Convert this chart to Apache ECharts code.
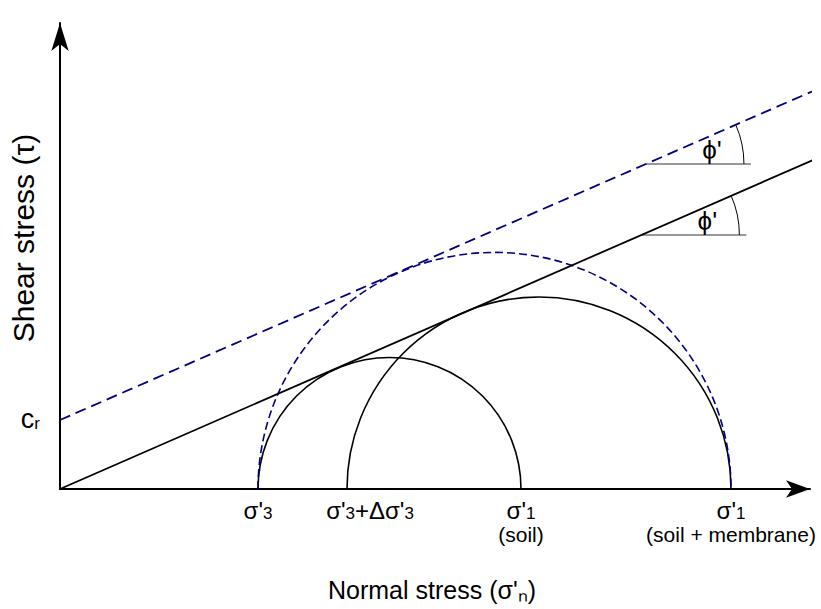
<!DOCTYPE html>
<html>
<head>
<meta charset="utf-8">
<script src="https://cdn.jsdelivr.net/npm/echarts@6/dist/echarts.min.js"></script>
<style>html,body{margin:0;padding:0;background:#fff}#c{width:821px;height:609px}</style>
</head>
<body>
<div id="c"></div>
<script>
// ---- data (stress units) ----
var sigma3 = 198;            // σ'3
var sigma3plus = 287;        // σ'3 + Δσ'3
var sigma1Soil = 461;        // σ'1 (soil)
var sigma1Membrane = 671;    // σ'1 (soil + membrane)
var cohesionR = 69;          // c_r (apparent cohesion from membrane)
var phiDeg = 23.6;           // friction angle φ'
var envelopeEndX = 761;      // extent of failure envelopes
// Mohr circles: [σ'3, σ'1]
var circlesSolid = [[sigma3, sigma1Soil], [sigma3plus, sigma1Membrane]];
var circlesDashed = [[sigma3, sigma1Membrane]];
// angle markers: [τ level of horizontal reference, intercept of envelope]
var angleMarkers = [[325, cohesionR], [254, 0]];
// tick labels
var tickValues = [sigma3, sigma3plus, sigma1Soil, sigma1Membrane];
var tickLabels = ["{m|σ'}{s|3}", "{m|σ'}{s|3}{m|+Δσ'}{s|3}", "{m|σ'}{s|1}\n{p|(soil)}", "{m|σ'}{s|1}\n{p|(soil + membrane)}"];
var crLabel = "{c|c}{s|r}";
var xTitle = "Normal stress (σ'ₙ)";
var yTitle = "Shear stress (τ)";

var tanPhi = Math.tan(phiDeg * Math.PI / 180);
var FONT = 'Liberation Sans, Arial, Helvetica, sans-serif';

var chart = echarts.init(document.getElementById('c'), null, {renderer: 'svg'});

function circleItem(color, dash, width) {
  return function (params, api) {
    var s3 = api.value(0), s1 = api.value(1);
    var c = api.coord([(s3 + s1) / 2, 0]);
    var r = api.size([(s1 - s3) / 2, 0])[0];
    return {
      type: 'arc',
      shape: {cx: c[0], cy: c[1], r: r, startAngle: Math.PI, endAngle: 2 * Math.PI, clockwise: true},
      style: {stroke: color, fill: 'none', lineWidth: width, lineDash: dash}
    };
  };
}

var rich = {
  m: {fontSize: 24, fontFamily: FONT, color: '#000', lineHeight: 32, verticalAlign: 'bottom'},
  c: {fontSize: 27, fontFamily: FONT, color: '#000', lineHeight: 34, verticalAlign: 'bottom'},
  s: {fontSize: 17, fontFamily: FONT, color: '#000', lineHeight: 17, verticalAlign: 'bottom'},
  p: {fontSize: 21, fontFamily: FONT, color: '#000', lineHeight: 24}
};

var tickData = tickValues.map(function (v, i) {
  return {
    value: [v, 0],
    label: {formatter: tickLabels[i], offset: [i === 1 ? 23 : 0, 0]}
  };
});

var option = {
  animation: false,
  backgroundColor: '#fff',
  grid: {left: 60, top: 23, width: 750, height: 466},
  xAxis: {
    type: 'value', min: 0, max: 750,
    axisLine: {show: true, symbol: ['none', 'arrow'], symbolSize: [13, 24], lineStyle: {color: '#000', width: 2}},
    axisTick: {show: false}, axisLabel: {show: false}, splitLine: {show: false}
  },
  yAxis: {
    type: 'value', min: 0, max: 466,
    axisLine: {show: true, symbol: ['none', 'arrow'], symbolSize: [13, 28], lineStyle: {color: '#000', width: 2}},
    axisTick: {show: false}, axisLabel: {show: false}, splitLine: {show: false}
  },
  graphic: [
    {type: 'text', x: 432, y: 590, style: {text: xTitle, font: '25px ' + FONT, fill: '#000', align: 'center', verticalAlign: 'middle'}},
    {type: 'text', rotation: Math.PI / 2, x: 23, y: 238, style: {text: yTitle, font: '30px ' + FONT, fill: '#000', align: 'center', verticalAlign: 'middle'}}
  ],
  series: [
    {
      type: 'line', clip: false, symbol: 'none', silent: true,
      data: [[0, 0], [envelopeEndX, envelopeEndX * tanPhi]],
      lineStyle: {color: '#000', width: 1.8}
    },
    {
      type: 'line', clip: false, symbol: 'none', silent: true,
      data: [[0, cohesionR], [envelopeEndX, cohesionR + envelopeEndX * tanPhi]],
      lineStyle: {color: '#000080', width: 1.8, type: [11, 6]}
    },
    {
      type: 'custom', clip: false, silent: true,
      renderItem: circleItem('#000', null, 1.6),
      data: circlesSolid
    },
    {
      type: 'custom', clip: false, silent: true,
      renderItem: circleItem('#000080', [8, 4], 1.6),
      data: circlesDashed
    },
    {
      type: 'custom', clip: false, silent: true,
      renderItem: function (params, api) {
        var tau = api.value(0), c0 = api.value(1);
        var v = api.coord([(tau - c0) / tanPhi, tau]);
        var phi = phiDeg * Math.PI / 180;
        return {
          type: 'group',
          children: [
            {type: 'line', shape: {x1: v[0], y1: v[1], x2: v[0] + 105, y2: v[1]}, style: {stroke: '#333', lineWidth: 1}},
            {type: 'arc', shape: {cx: v[0], cy: v[1], r: 98, startAngle: -phi, endAngle: 0, clockwise: true}, style: {stroke: '#000', fill: 'none', lineWidth: 1}},
            {type: 'text', style: {text: "ϕ'", x: v[0] + 66, y: v[1] - 14, font: '26px ' + FONT, fill: '#000', align: 'center', verticalAlign: 'middle'}}
          ]
        };
      },
      data: angleMarkers
    },
    {
      type: 'scatter', symbolSize: 0, silent: true,
      itemStyle: {opacity: 1},
      data: tickData,
      label: {show: true, position: 'bottom', distance: 1, align: 'center', color: '#000', rich: rich}
    },
    {
      type: 'scatter', symbolSize: 0, silent: true,
      itemStyle: {opacity: 1},
      data: [[0, cohesionR]],
      label: {show: true, position: 'left', distance: 20, offset: [0, -5], color: '#000', formatter: crLabel, rich: rich}
    }
  ]
};
chart.setOption(option);
</script>
</body>
</html>
